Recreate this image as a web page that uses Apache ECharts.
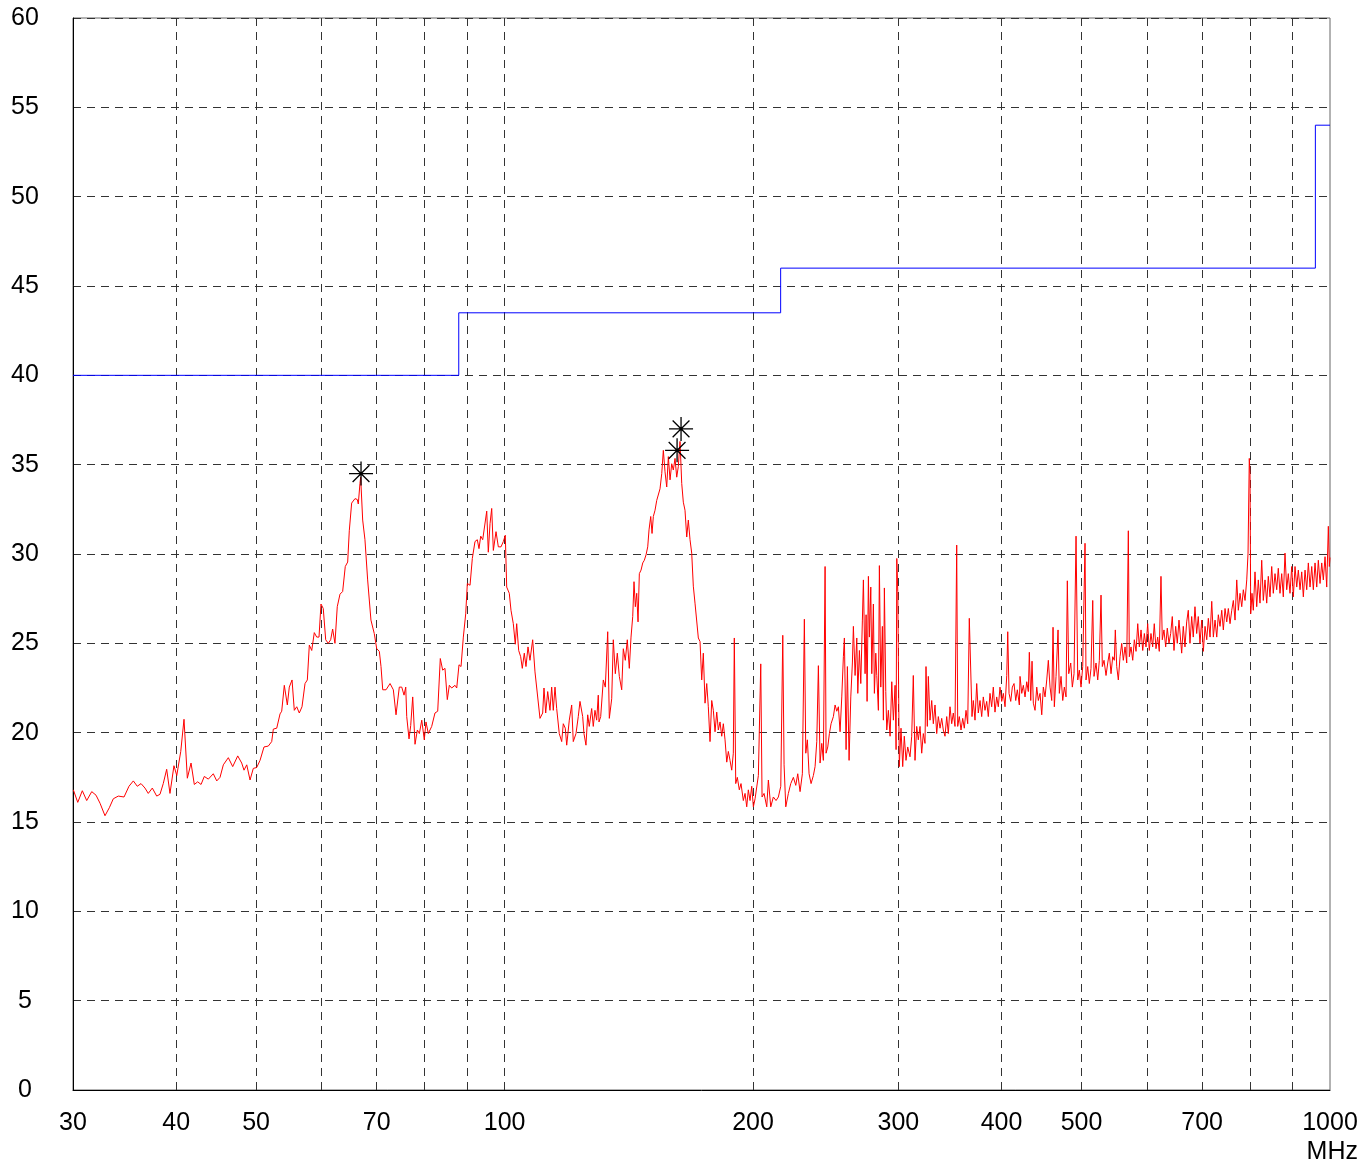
<!DOCTYPE html>
<html><head><meta charset="utf-8">
<script src="https://cdn.jsdelivr.net/npm/echarts@6/dist/echarts.min.js"></script>
<style>html,body{margin:0;padding:0;background:#fff}#c{width:1362px;height:1162px}</style>
</head><body><div id="c"></div>
<script>
// Measured trace (MHz, dBuV/m)
const traceFreq = [
30.03,30.40,30.79,31.17,31.61,31.99,32.35,32.80,33.20,33.57,34.04,34.59,35.07,35.50,35.89,36.27,36.67,37.01,37.43,37.89,
38.24,38.59,38.96,39.32,39.76,40.07,40.52,40.89,41.27,41.70,42.08,42.48,42.88,43.27,43.76,44.37,44.80,45.21,45.63,46.27,
46.84,47.50,48.03,48.34,48.71,49.16,49.61,50.08,50.55,51.11,51.73,52.22,52.46,52.96,53.45,
53.70,54.09,54.55,54.85,55.27,55.62,56.00,56.40,56.83,57.31,57.68,58.00,58.39,58.81,59.21,59.59,59.92,60.30,60.71,61.15,
61.56,61.90,62.30,62.70,63.18,63.65,64.12,64.55,64.84,65.27,65.88,66.30,66.49,66.80,66.93,67.31,67.74,68.25,68.88,69.52,
70.00,70.51,70.84,71.18,71.84,72.65,73.32,73.87,74.55,75.06,75.54,75.90,76.11,76.60,76.96,77.39,77.89,78.40,78.84,79.37,
79.93,80.31,80.83,81.60,82.35,82.98,83.58,84.14,84.68,85.23,85.71,86.28,87.08,87.50,88.06,88.56,89.13,89.72,90.13,90.81,
91.39,92.08,92.67,93.11,
93.56,94.08,94.50,95.14,95.56,96.02,96.47,96.91,97.64,98.27,99.01,99.65,100.2,100.59,101.32,101.80,102.46,103.03,103.43,104.01,
104.59,105.06,105.65,106.15,106.75,107.34,108.15,108.85,109.37,110.38,111.21,111.62,112.15,112.78,113.50,114.04,114.55,115.10,115.64,116.48,
117.27,117.79,118.45,118.92,119.78,120.58,121.12,122.04,122.82,123.41,124.34,124.79,125.49,126.09,126.65,127.50,128.07,128.68,129.29,129.87,
130.13,130.75,131.70,132.44,133.33,133.93,134.83,135.43,136.19,136.95,137.72,138.64,139.26,140.04,140.82,141.61,142.29,142.97,143.48,144.01,
144.57,145.10,145.63,146.32,147.02,147.67,148.37,149.08,149.62,150.33,150.88,151.43,152.15,152.87,153.55,154.28,155.02,155.71,156.45,157.19,
157.90,158.65,159.40,160.11,160.87,161.64,162.36,163.13,163.91,164.64,165.42,166.21,166.95,167.75,168.54,169.30,170.10,170.91,171.68,172.49,
173.31,174.09,174.92,175.75,176.53,177.37,178.22,179.02,179.87,180.72,181.53,182.39,183.26,184.08,184.96,185.84,186.67,187.55,188.44,189.28,
189.81,190.56,191.41,192.48,193.39,194.64,195.57,196.50,197.38,198.32,199.26,200.17,
201.12,202.98,204.34,205.08,206.23,207.79,208.72,210.12,211.65,213.25,214.63,216.07,217.28,218.07,219.11,220.70,222.19,223.80,225.31,226.56,
228.02,229.49,230.77,231.68,232.71,233.82,235.13,236.64,237.77,238.90,239.97,241.11,242.26,243.34,244.50,245.18,246.35,247.45,248.62,250.23,
251.42,252.61,253.74,254.95,256.16,257.31,258.03,259.26,260.20,261.43,262.68,263.85,264.59,265.85,267.11,267.86,269.06,270.11,271.32,272.08,
273.37,274.13,274.90,275.90,276.67,277.75,278.53,279.77,280.55,281.65,282.44,283.70,284.49,285.61,286.88,287.68,288.49,289.61,290.42,291.72,
293.11,294.50,295.82,297.23,298.06,298.64,299.47,300.75,302.18,303.62,304.98,306.43,307.88,309.87,311.34,312.73,314.22,315.71,
317.12,318.64,320.15,321.58,323.11,324.01,325.19,326.10,327.65,329.20,330.68,332.25,333.83,335.33,336.92,338.52,340.03,341.65,343.27,344.81,
346.45,348.09,349.65,351.31,352.98,353.97,355.55,357.24,358.94,360.54,362.26,363.98,365.61,367.04,368.37,369.71,371.47,373.23,374.90,376.68,
378.47,380.16,381.97,383.78,385.50,387.33,389.17,390.92,392.77,394.64,396.41,398.29,400.2,402.01,403.92,405.85,406.98,408.46,410.40,412.23,
414.19,416.16,418.02,420.37,
421.19,423.19,425.08,427.11,429.14,431.05,432.26,433.95,435.53,437.11,439.19,441.28,443.25,445.36,447.47,449.48,451.62,453.76,455.79,457.96,
460.13,461.80,463.48,465.68,468.29,469.99,472.22,474.47,476.59,478.85,480.59,482.47,485.17,487.34,489.66,492.40,494.74,496.95,499.30,501.68,
504.90,506.32,508.72,511.00,513.43,515.87,517.74,520.64,523.12,525.46,527.95,529.87,532.39,535.37,537.92,540.32,542.89,545.47,547.91,549.44,
551.59,554.06,556.70,559.34,561.84,564.52,567.20,569.74,571.33,574.04,576.77,579.35,582.11,584.88,587.49,590.29,593.09,595.74,598.57,601.34,
604.03,606.90,609.79,612.51,615.43,618.35,621.12,624.07,626.34,629.31,632.30,635.14,638.16,641.19,644.06,647.12,650.20,653.11,656.21,
661.17,664.12,667.28,670.45,673.45,676.65,679.86,682.90,686.15,689.41,692.50,695.79,699.2,702.35,705.69,709.04,712.21,715.60,719.00,722.22,
725.65,729.10,732.36,735.84,739.34,742.64,746.17,749.72,753.07,756.65,760.25,763.65,767.28,770.92,774.37,778.05,781.75,785.25,788.98,792.73,
795.61,798.4,800.0,801.56,804.47,807.40,811.23,815.09,818.73,822.63,826.54,830.24,834.19,838.15,841.90,845.90,849.92,853.72,857.78,861.86,
865.72,869.83,873.97,877.88,882.05,886.24,890.20,894.43,898.69,902.76,907.05,911.36,915.44,919.79,924.17,928.30,932.72,937.15,941.34,945.82,
950.31,954.57,959.11,963.67,967.98,972.58,977.20,981.58,986.24,990.93,995.36,998.14,1000
];
const traceLevel = [
16.8,16.1,16.75,16.2,16.7,16.5,16.05,15.35,15.8,16.3,16.45,16.4,17.0,17.3,17.0,17.15,16.9,16.6,16.9,16.45,
16.55,17.15,17.95,16.6,18.15,17.6,18.95,20.75,17.45,18.3,17.1,17.25,17.1,17.55,17.4,17.7,17.3,17.5,18.2,18.6,
18.1,18.7,18.3,17.9,18.2,17.35,18.0,18.05,18.45,19.2,19.25,19.5,20.2,20.25,21.05,
21.2,22.65,21.55,22.55,22.95,21.25,21.45,21.1,21.45,22.75,22.95,24.9,24.6,25.6,25.35,25.35,27.2,26.95,25.2,25.0,
25.2,25.8,25.0,27.05,27.75,27.9,29.3,29.55,31.3,32.85,33.1,33.05,32.8,33.95,34.3,31.9,30.8,28.55,26.3,25.55,
24.7,24.55,23.7,22.4,22.4,22.75,22.4,21.0,22.55,22.55,22.1,22.55,20.9,19.65,20.4,22.0,19.35,20.15,19.95,20.7,
19.6,20.6,19.95,20.35,21.1,21.2,24.15,23.5,23.6,21.85,22.65,22.5,22.65,22.5,23.8,23.7,25.35,26.65,28.35,28.25,
29.75,30.7,30.8,30.3,
31.0,30.8,30.7,32.4,30.1,31.7,32.55,30.2,31.25,30.4,30.4,30.7,31.05,28.15,27.8,26.85,26.1,24.95,26.1,24.6,
24.25,23.6,24.45,23.7,24.8,24.05,25.2,23.4,23.5,20.8,21.1,22.5,21.1,22.3,21.25,22.55,21.25,22.55,21.35,19.95,
19.5,20.5,20.25,19.3,20.7,21.55,19.5,19.95,20.9,21.75,20.9,19.95,19.3,21.0,20.35,21.35,20.35,21.25,20.7,22.1,
20.6,20.9,22.95,22.55,25.65,20.8,21.9,25.2,23.3,24.45,23.15,22.4,24.7,24.05,25.2,23.6,25.35,26.5,28.45,27.05,
27.8,26.2,28.9,29.1,29.5,29.65,29.95,30.4,31.35,32.1,31.15,32.1,32.45,33.0,33.0,33.65,34.5,35.8,34.6,33.75,
35.45,34.15,35.05,34.7,35.35,34.3,34.9,36.3,33.95,32.9,32.45,30.95,31.9,30.8,30.05,28.2,27.25,27.35,25.3,25.1,
22.95,24.45,21.65,22.75,21.45,19.5,21.8,21.25,20.05,21.15,20.15,20.6,19.8,20.5,19.6,18.35,18.95,18.45,17.9,18.85,
25.3,17.15,17.5,16.8,17.15,16.2,16.6,15.85,16.8,16.2,17.0,15.85,
16.3,17.6,23.85,16.4,16.6,15.85,17.35,15.85,16.4,16.2,16.4,17.0,25.45,18.2,15.85,16.6,17.15,17.5,17.05,17.7,
16.7,17.7,26.35,18.85,19.6,17.7,17.15,17.6,18.1,19.5,23.75,18.3,19.4,18.45,29.3,18.85,19.2,19.95,20.5,20.9,
21.55,21.2,21.45,20.05,22.0,24.25,25.3,19.05,23.7,18.45,22.0,23.9,25.95,23.2,25.3,22.2,24.6,22.75,26.3,28.55,
23.3,26.6,21.75,28.75,25.35,28.15,23.3,27.2,22.2,24.45,23.2,21.25,29.35,22.55,25.95,20.7,28.1,22.3,20.15,21.25,
19.8,22.85,20.7,22.65,19.05,29.75,27.9,18.1,20.25,18.1,19.8,18.45,19.2,18.65,19.8,23.2,18.45,20.35,
19.6,20.35,18.85,19.95,19.4,23.7,20.35,23.15,20.7,21.8,20.5,21.55,19.95,20.9,20.25,20.8,20.15,19.8,20.9,19.95,
21.45,20.5,21.1,20.35,30.5,20.35,20.9,20.15,20.8,20.25,21.25,20.5,26.4,26.3,20.9,21.8,20.7,22.75,21.1,21.8,
20.9,22.0,21.25,21.75,20.9,22.2,21.45,22.55,21.15,22.0,21.45,22.55,21.75,22.2,21.45,23.2,25.65,22.2,21.75,22.55,
22.75,21.8,22.4,21.55,
23.15,22.2,22.65,22.0,22.85,22.3,24.5,21.8,24.0,21.65,21.25,22.55,21.8,22.2,21.0,22.55,22.0,22.95,24.05,22.55,
21.8,25.9,21.45,23.15,25.75,22.2,23.15,21.8,22.55,22.0,28.5,23.3,23.9,22.55,23.3,31.0,22.95,23.5,22.55,23.7,
30.6,22.95,23.7,22.75,23.6,27.4,23.15,23.9,22.95,24.05,27.7,23.7,24.05,23.2,23.9,24.45,23.3,24.25,24.05,25.75,
23.7,22.95,24.25,25.0,24.05,24.8,23.9,31.3,24.25,24.8,24.05,25.2,24.55,26.1,24.8,25.75,24.6,25.55,24.8,26.1,
24.6,25.55,24.8,26.1,24.7,25.35,24.55,28.75,25.2,25.75,24.8,25.85,25.0,25.55,26.5,24.6,25.95,25.0,26.3,
24.45,25.95,24.8,26.2,26.85,25.0,26.5,25.35,27.05,25.55,26.5,25.0,26.3,24.55,25.95,25.2,26.4,25.35,27.35,25.35,
26.3,25.35,26.6,25.95,26.85,25.75,26.95,26.2,26.95,26.1,26.85,27.4,26.3,28.55,26.85,27.8,27.05,28.0,27.4,28.55,
30.05,35.35,34.5,26.65,27.8,26.85,29.0,27.05,28.55,27.25,29.65,27.4,28.55,27.25,28.75,27.6,29.3,27.8,28.9,28.0,
29.2,27.8,28.9,27.6,30.05,28.0,28.9,27.8,29.3,27.6,29.3,28.15,29.1,28.0,29.0,27.6,29.1,28.0,29.5,28.15,
29.3,28.0,29.5,28.15,29.65,28.35,29.5,28.55,29.85,28.15,31.55,29.3,29.8
];
// Limit line (step)
const limitFreq = [30, 88, 88, 216, 216, 960, 960, 1000];
const limitLevel = [40, 40, 43.5, 43.5, 46, 46, 54, 54];
// Peak markers
const markerFreq = [67.0, 161.8, 163.6];
const markerLevel = [34.5, 35.8, 37.0];
// Axis ticks
const xLabelFreqs = [30, 40, 50, 70, 100, 200, 300, 400, 500, 700, 1000];
const xGridFreqs = [40, 50, 60, 70, 80, 90, 100, 200, 300, 400, 500, 600, 700, 800, 900];
const xMinFreq = 30, xMaxFreq = 1000;
const yMin = 0, yMax = 60, yStep = 5;
const xUnit = 'MHz';

const L = v => Math.log10(v);
const FONT = "'Liberation Sans', Arial, sans-serif";
const chart = echarts.init(document.getElementById('c'), null, {renderer: 'canvas'});
const gridDash = {type: [8, 6], color: '#333', width: 1};

chart.setOption({
  animation: false,
  backgroundColor: '#fff',
  grid: {left: 73, right: 32, top: 18, bottom: 72, show: true, borderColor: '#666', borderWidth: 1},
  xAxis: {
    type: 'value', min: L(xMinFreq), max: L(xMaxFreq),
    axisLine: {show: true, onZero: false, lineStyle: {color: '#000', width: 1}},
    axisTick: {show: false, customValues: xGridFreqs.map(L)},
    axisLabel: {
      customValues: xLabelFreqs.map(L), showMinLabel: true, showMaxLabel: true,
      formatter: v => String(Math.round(Math.pow(10, v))),
      fontSize: 25, color: '#000', fontFamily: FONT, margin: 21
    },
    splitLine: {show: true, lineStyle: gridDash}
  },
  yAxis: {
    type: 'value', min: yMin, max: yMax, interval: yStep,
    axisLine: {show: true, lineStyle: {color: '#000', width: 1}},
    axisTick: {show: false},
    axisLabel: {fontSize: 25, color: '#000', fontFamily: FONT, align: 'center', margin: 48},
    splitLine: {show: true, lineStyle: gridDash}
  },
  graphic: [{
    type: 'text', right: 4, top: 1140,
    style: {text: xUnit, fontSize: 25, fill: '#000', fontFamily: FONT}
  }],
  series: [
    {
      type: 'line', name: 'limit', data: limitFreq.map((f, i) => [L(f), limitLevel[i]]),
      showSymbol: false, lineStyle: {color: '#0000ff', width: 1}, z: 3
    },
    {
      type: 'line', name: 'trace', data: traceFreq.map((f, i) => [L(f), traceLevel[i]]),
      showSymbol: false, sampling: null, lineStyle: {color: '#ff0000', width: 1}, z: 4
    },
    {
      type: 'scatter', name: 'peaks', data: markerFreq.map((f, i) => [L(f), markerLevel[i]]),
      symbol: 'path://M10,0L10,20M0,10L20,10M3,3L17,17M3,17L17,3',
      symbolSize: 24,
      itemStyle: {color: 'rgba(0,0,0,0)', borderColor: '#000', borderWidth: 1.3, opacity: 1},
      z: 5
    }
  ]
});
</script></body></html>
